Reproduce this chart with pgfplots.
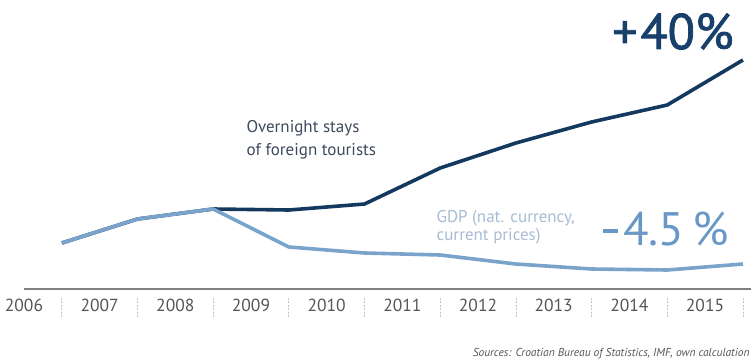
\documentclass[border=0pt]{standalone}
\usepackage{pgfplots}
\pgfplotsset{compat=1.18}
\usepackage{fontspec}
\setmainfont{PT Sans}
\definecolor{navy}{HTML}{14395F}
\definecolor{lightblue}{HTML}{7AA3CC}
\definecolor{tourtext}{HTML}{3D4B5C}
\definecolor{gdptext}{HTML}{A7BCD3}
\definecolor{bignavy}{HTML}{18406A}
\definecolor{biglight}{HTML}{6A98C6}
\definecolor{tickgray}{HTML}{555555}
\definecolor{axisgray}{HTML}{808080}
\begin{document}
\begin{tikzpicture}
\path[use as bounding box] (0,0) rectangle (754pt,362pt);
\begin{axis}[
  at={(24pt,73pt)}, anchor=south west,
  scale only axis, width=726.5pt, height=289pt,
  xmin=2005.5, xmax=2015.1, ymin=0, ymax=289,
  axis x line*=bottom, hide y axis,
  axis line style={draw=axisgray, line width=1.3pt, -},
  clip=false,
  xtick={2006,...,2015},
  xticklabels={2006,2007,2008,2009,2010,2011,2012,2013,2014,2015},
  tick align=outside,
  major tick length=20pt,
  xtick style={draw=gray!45, line width=0.7pt, dash pattern=on 2pt off 1.5pt, yshift=-8pt},
  xticklabel style={font=\fontsize{17.5}{20}\selectfont, text=tickgray, xshift=-37.85pt, yshift=13pt},
]
\addplot[navy, line width=3.6pt, line join=round] coordinates {
 (2006,46) (2007,70) (2008,80) (2009,79) (2010,85) (2011,121) (2012,146) (2013,167) (2014,184) (2015,229)
};
\addplot[lightblue, line width=3.6pt, line join=round] coordinates {
 (2006,46) (2007,70) (2008,80) (2009,42) (2010,36) (2011,34) (2012,25) (2013,20) (2014,19) (2015,25)
};
\node[anchor=base west, inner sep=0, font=\fontsize{17}{20}\selectfont, text=tourtext] at (axis cs:2008.44,157) {Overnight stays};
\node[anchor=base west, inner sep=0, font=\fontsize{17}{20}\selectfont, text=tourtext] at (axis cs:2008.44,134) {of foreign tourists};
\node[anchor=base west, inner sep=0, font=\fontsize{17}{20}\selectfont, text=gdptext] at (axis cs:2010.95,67) {GDP (nat. currency,};
\node[anchor=base west, inner sep=0, font=\fontsize{17}{20}\selectfont, text=gdptext] at (axis cs:2010.95,49) {current prices)};
\node[anchor=base west, inner sep=0, font=\addfontfeature{FakeBold=1.6}\fontsize{50}{52}\selectfont, text=bignavy] at (axis cs:2013.27,240) {+\kern3pt40\%};
\node[anchor=base west, inner sep=0, font=\fontsize{47}{50}\selectfont, text=biglight] at (axis cs:2013.15,44) {\rule[12pt]{15pt}{4.5pt}\kern5pt4.5\,\%};
\node[anchor=base east, inner sep=0, font=\itshape\fontsize{11.5}{13}\selectfont, text=tickgray] at (axis cs:2015.09,-67) {Sources: Croatian Bureau of Statistics, IMF, own calculation};
\end{axis}
\end{tikzpicture}
\end{document}
